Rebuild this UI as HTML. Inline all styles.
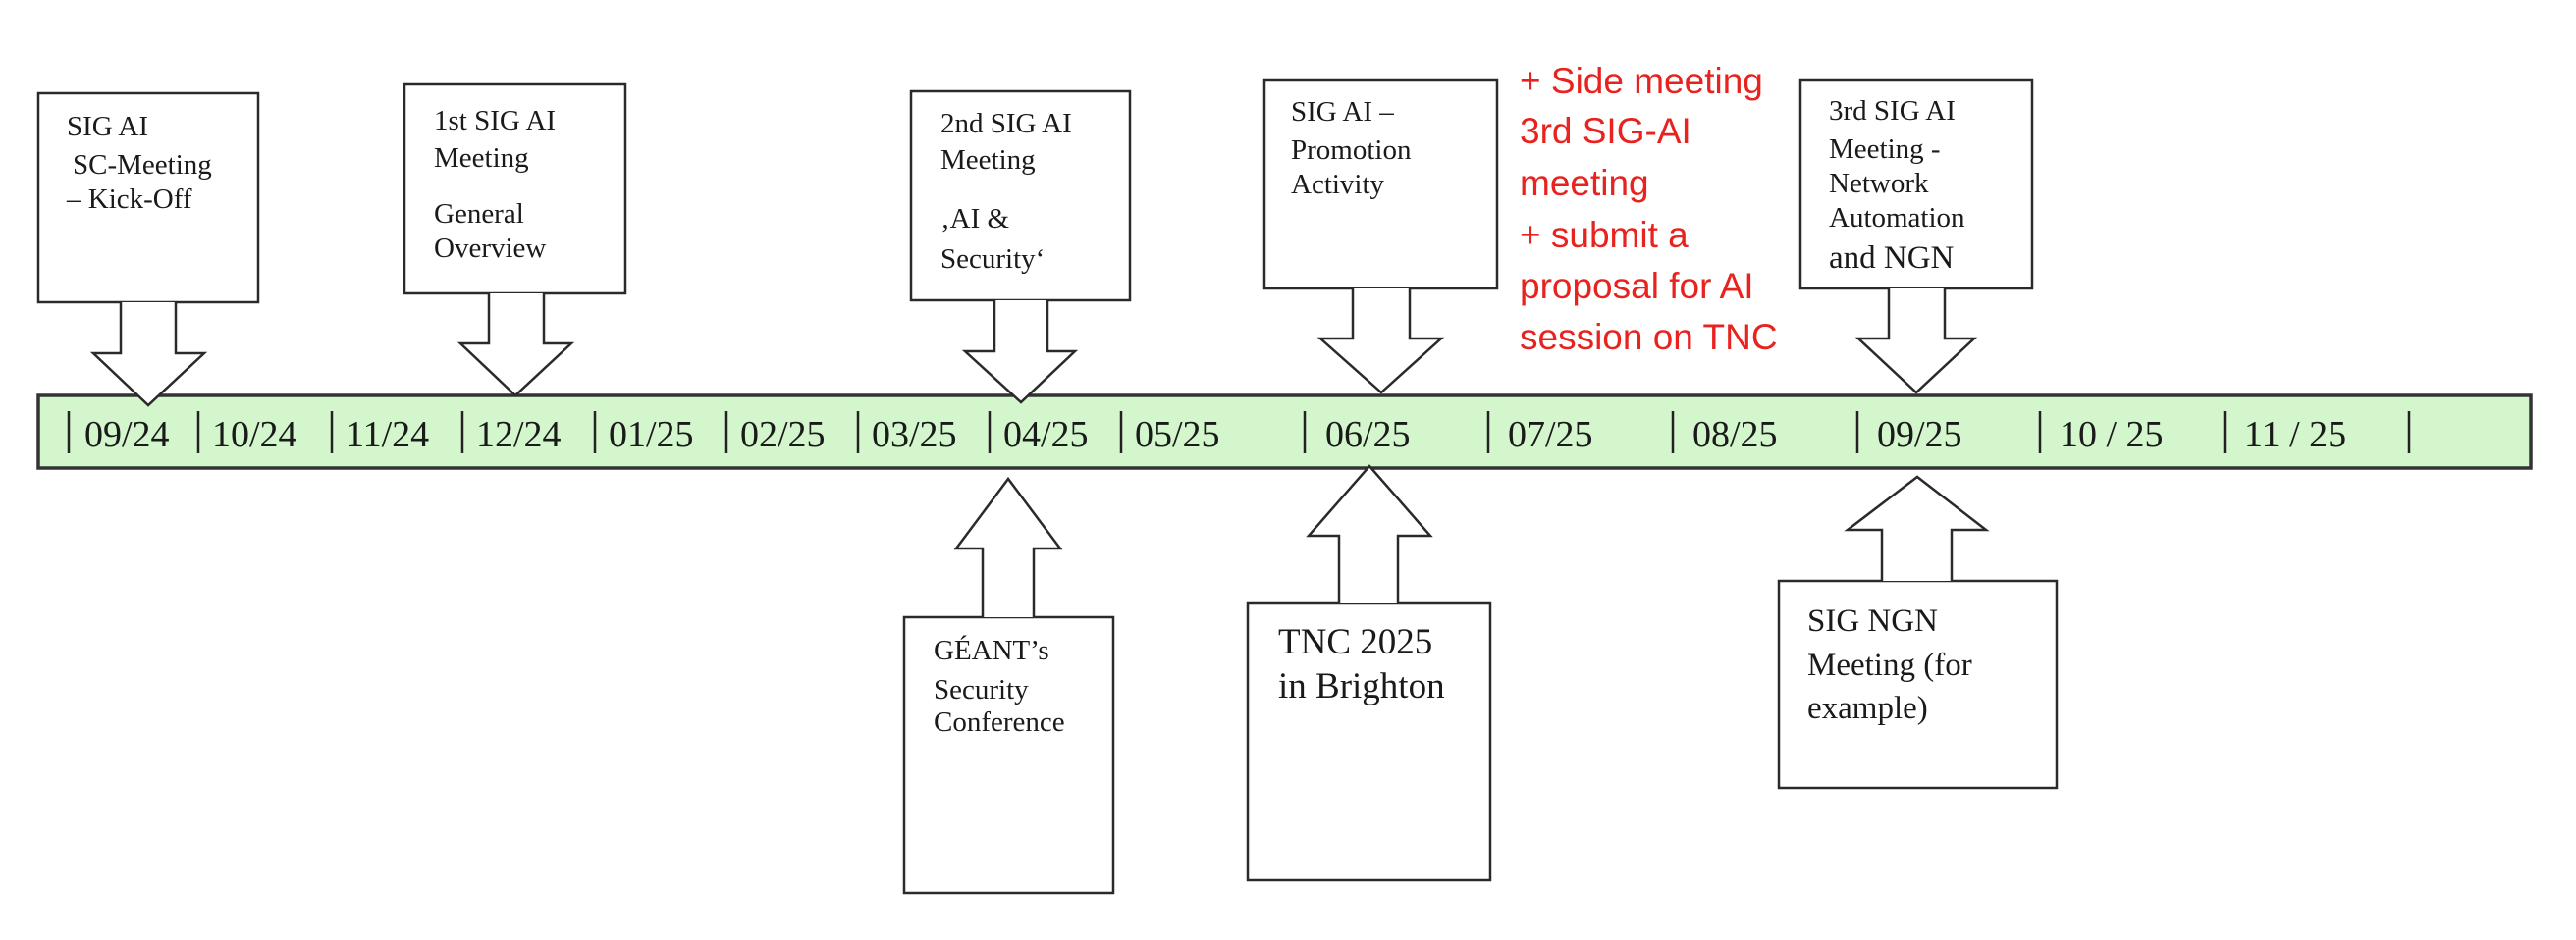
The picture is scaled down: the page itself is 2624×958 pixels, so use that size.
<!DOCTYPE html>
<html><head><meta charset="utf-8"><style>
html,body{margin:0;padding:0;background:#fff;}
svg{display:block;}
.t{font-family:"Liberation Serif",serif;fill:#1a1a1a;}
.r{font-family:"Liberation Sans",sans-serif;fill:#e8231f;font-size:37px;}
.s{fill:#fff;stroke:#2a2a2a;stroke-width:2.5;}
</style></head><body>
<svg width="2624" height="958" viewBox="0 0 2624 958" xmlns="http://www.w3.org/2000/svg">
<rect x="39" y="403" width="2539" height="74" fill="#d3f6cc" stroke="#333" stroke-width="3.5"/>
<g stroke="#222" stroke-width="2.5">
<line x1="70" y1="419" x2="70" y2="462"/><line x1="202" y1="419" x2="202" y2="462"/>
<line x1="338" y1="419" x2="338" y2="462"/><line x1="471" y1="419" x2="471" y2="462"/>
<line x1="606" y1="419" x2="606" y2="462"/><line x1="740" y1="419" x2="740" y2="462"/>
<line x1="874" y1="419" x2="874" y2="462"/><line x1="1008" y1="419" x2="1008" y2="462"/>
<line x1="1142" y1="419" x2="1142" y2="462"/><line x1="1329" y1="419" x2="1329" y2="462"/>
<line x1="1516" y1="419" x2="1516" y2="462"/><line x1="1704" y1="419" x2="1704" y2="462"/>
<line x1="1892" y1="419" x2="1892" y2="462"/><line x1="2078" y1="419" x2="2078" y2="462"/>
<line x1="2266" y1="419" x2="2266" y2="462"/><line x1="2454" y1="419" x2="2454" y2="462"/>
</g>
<g class="t" font-size="38">
<text x="86" y="455">09/24</text><text x="216" y="455">10/24</text><text x="352" y="455">11/24</text>
<text x="485" y="455">12/24</text><text x="620" y="455">01/25</text><text x="754" y="455">02/25</text>
<text x="888" y="455">03/25</text><text x="1022" y="455">04/25</text><text x="1156" y="455">05/25</text>
<text x="1350" y="455">06/25</text><text x="1536" y="455">07/25</text><text x="1724" y="455">08/25</text>
<text x="1912" y="455">09/25</text><text x="2098" y="455">10 / 25</text><text x="2286" y="455">11 / 25</text>
</g>

<rect class="s" x="39" y="95" width="224" height="213"/>
<polyline class="s" points="123,308 123,360 95,360 151,413 208,360 179,360 179,308"/>
<rect class="s" x="412" y="86" width="225" height="213"/>
<polyline class="s" points="498,299 498,350 469,350 525,403 582,350 554,350 554,299"/>
<rect class="s" x="928" y="93" width="223" height="213"/>
<polyline class="s" points="1013,306 1013,358 983,358 1040,410 1095,358 1067,358 1067,306"/>
<rect class="s" x="1288" y="82" width="237" height="212"/>
<polyline class="s" points="1378,294 1378,345 1345,345 1407,400 1468,345 1436,345 1436,294"/>
<rect class="s" x="1834" y="82" width="236" height="212"/>
<polyline class="s" points="1924,294 1924,345 1893,345 1952,400 2011,345 1981,345 1981,294"/>

<rect class="s" x="921" y="629" width="213" height="281"/>
<polyline class="s" points="1001,629 1001,559 974,559 1027,488 1080,559 1053,559 1053,629"/>
<rect class="s" x="1271" y="615" width="247" height="282"/>
<polyline class="s" points="1364,615 1364,546 1333,546 1395,475 1457,546 1424,546 1424,615"/>
<rect class="s" x="1812" y="592" width="283" height="211"/>
<polyline class="s" points="1917,592 1917,540 1882,540 1953,486 2023,540 1988,540 1988,592"/>

<g class="t" font-size="29">
<text x="68" y="138">SIG AI</text><text x="74" y="177">SC-Meeting</text><text x="68" y="212">– Kick-Off</text>
<text x="442" y="132">1st SIG AI</text><text x="442" y="170">Meeting</text><text x="442" y="227">General</text><text x="442" y="262">Overview</text>
<text x="958" y="135">2nd SIG AI</text><text x="958" y="172">Meeting</text><text x="958" y="232">‚AI &amp;</text><text x="958" y="273">Security‘</text>
<text x="1315" y="123">SIG AI –</text><text x="1315" y="162">Promotion</text><text x="1315" y="197">Activity</text>
<text x="1863" y="122">3rd SIG AI</text><text x="1863" y="161">Meeting -</text><text x="1863" y="196">Network</text><text x="1863" y="231">Automation</text>
<text x="1863" y="273" font-size="33">and NGN</text>
<text x="951" y="672">GÉANT’s</text><text x="951" y="712">Security</text><text x="951" y="745">Conference</text>
<text x="1302" y="666" font-size="37">TNC 2025</text><text x="1302" y="711" font-size="37">in Brighton</text>
<text x="1841" y="643" font-size="33">SIG NGN</text><text x="1841" y="688" font-size="33">Meeting (for</text><text x="1841" y="732" font-size="33">example)</text>
</g>

<g class="r">
<text x="1548" y="95">+ Side meeting</text>
<text x="1548" y="146">3rd SIG-AI</text>
<text x="1548" y="199">meeting</text>
<text x="1548" y="252">+ submit a</text>
<text x="1548" y="304">proposal for AI</text>
<text x="1548" y="356">session on TNC</text>
</g>
</svg>
</body></html>
